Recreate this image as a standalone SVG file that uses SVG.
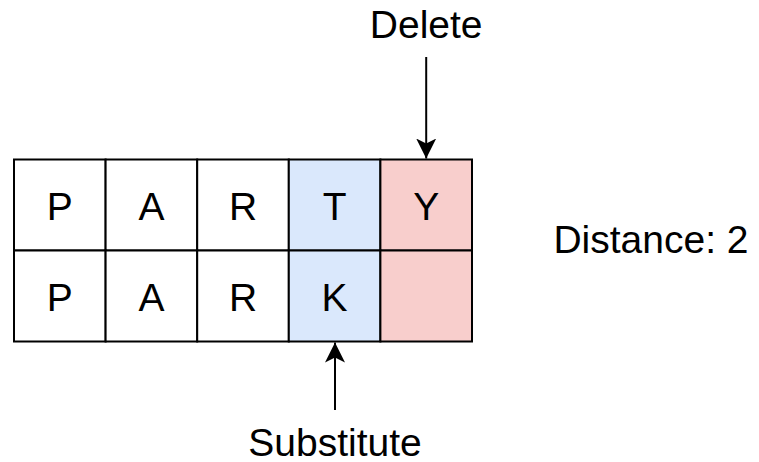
<svg xmlns="http://www.w3.org/2000/svg" width="759" height="462" viewBox="0 0 759 462">
  <defs>
    <style>
      .cell { stroke: #000; stroke-width: 2; }
      .plain { fill: #ffffff; }
      .sub { fill: #dae8fc; }
      .del { fill: #f8cecc; }
      .txt { font-family: "Liberation Sans", Arial, Helvetica, sans-serif; font-size: 39px; fill: #000; text-anchor: middle; }
      .edge { stroke: #000; stroke-width: 2; fill: none; }
    </style>
    <marker id="arrow" viewBox="0 0 20 20" refX="20" refY="10" markerWidth="20" markerHeight="20" markerUnits="userSpaceOnUse" orient="auto">
      <path d="M20,10 L0,0 L5,10 L0,20 Z" fill="#000"/>
    </marker>
  </defs>
  <rect width="759" height="462" fill="#ffffff"/>

  <!-- top row: source word -->
  <g id="cell-p1"><rect class="cell plain" x="14" y="159.5" width="91.6" height="91"/><text class="txt" x="59.8" y="219.5">P</text></g>
  <g id="cell-a1"><rect class="cell plain" x="105.6" y="159.5" width="91.6" height="91"/><text class="txt" x="151.4" y="219.5">A</text></g>
  <g id="cell-r1"><rect class="cell plain" x="197.2" y="159.5" width="91.6" height="91"/><text class="txt" x="243" y="219.5">R</text></g>
  <g id="cell-t1"><rect class="cell sub" x="288.8" y="159.5" width="91.6" height="91"/><text class="txt" x="334.6" y="219.5">T</text></g>
  <g id="cell-y1"><rect class="cell del" x="380.4" y="159.5" width="91.6" height="91"/><text class="txt" x="426.2" y="219.5">Y</text></g>

  <!-- bottom row: target word -->
  <g id="cell-p2"><rect class="cell plain" x="14" y="250.5" width="91.6" height="91"/><text class="txt" x="59.8" y="310.5">P</text></g>
  <g id="cell-a2"><rect class="cell plain" x="105.6" y="250.5" width="91.6" height="91"/><text class="txt" x="151.4" y="310.5">A</text></g>
  <g id="cell-r2"><rect class="cell plain" x="197.2" y="250.5" width="91.6" height="91"/><text class="txt" x="243" y="310.5">R</text></g>
  <g id="cell-k2"><rect class="cell sub" x="288.8" y="250.5" width="91.6" height="91"/><text class="txt" x="334.6" y="310.5">K</text></g>
  <g id="cell-empty2"><rect class="cell del" x="380.4" y="250.5" width="91.6" height="91"/></g>

  <!-- labels -->
  <g id="label-delete"><text class="txt" x="426.2" y="38">Delete</text></g>
  <g id="label-substitute"><text class="txt" x="335" y="456">Substitute</text></g>
  <g id="label-distance"><text class="txt" x="651" y="253">Distance: 2</text></g>

  <!-- connectors -->
  <g id="connectors">
    <path class="edge" d="M426.2,57 L426.2,158.5" marker-end="url(#arrow)"/>
    <path class="edge" d="M335,410 L335,342.5" marker-end="url(#arrow)"/>
  </g>
</svg>
